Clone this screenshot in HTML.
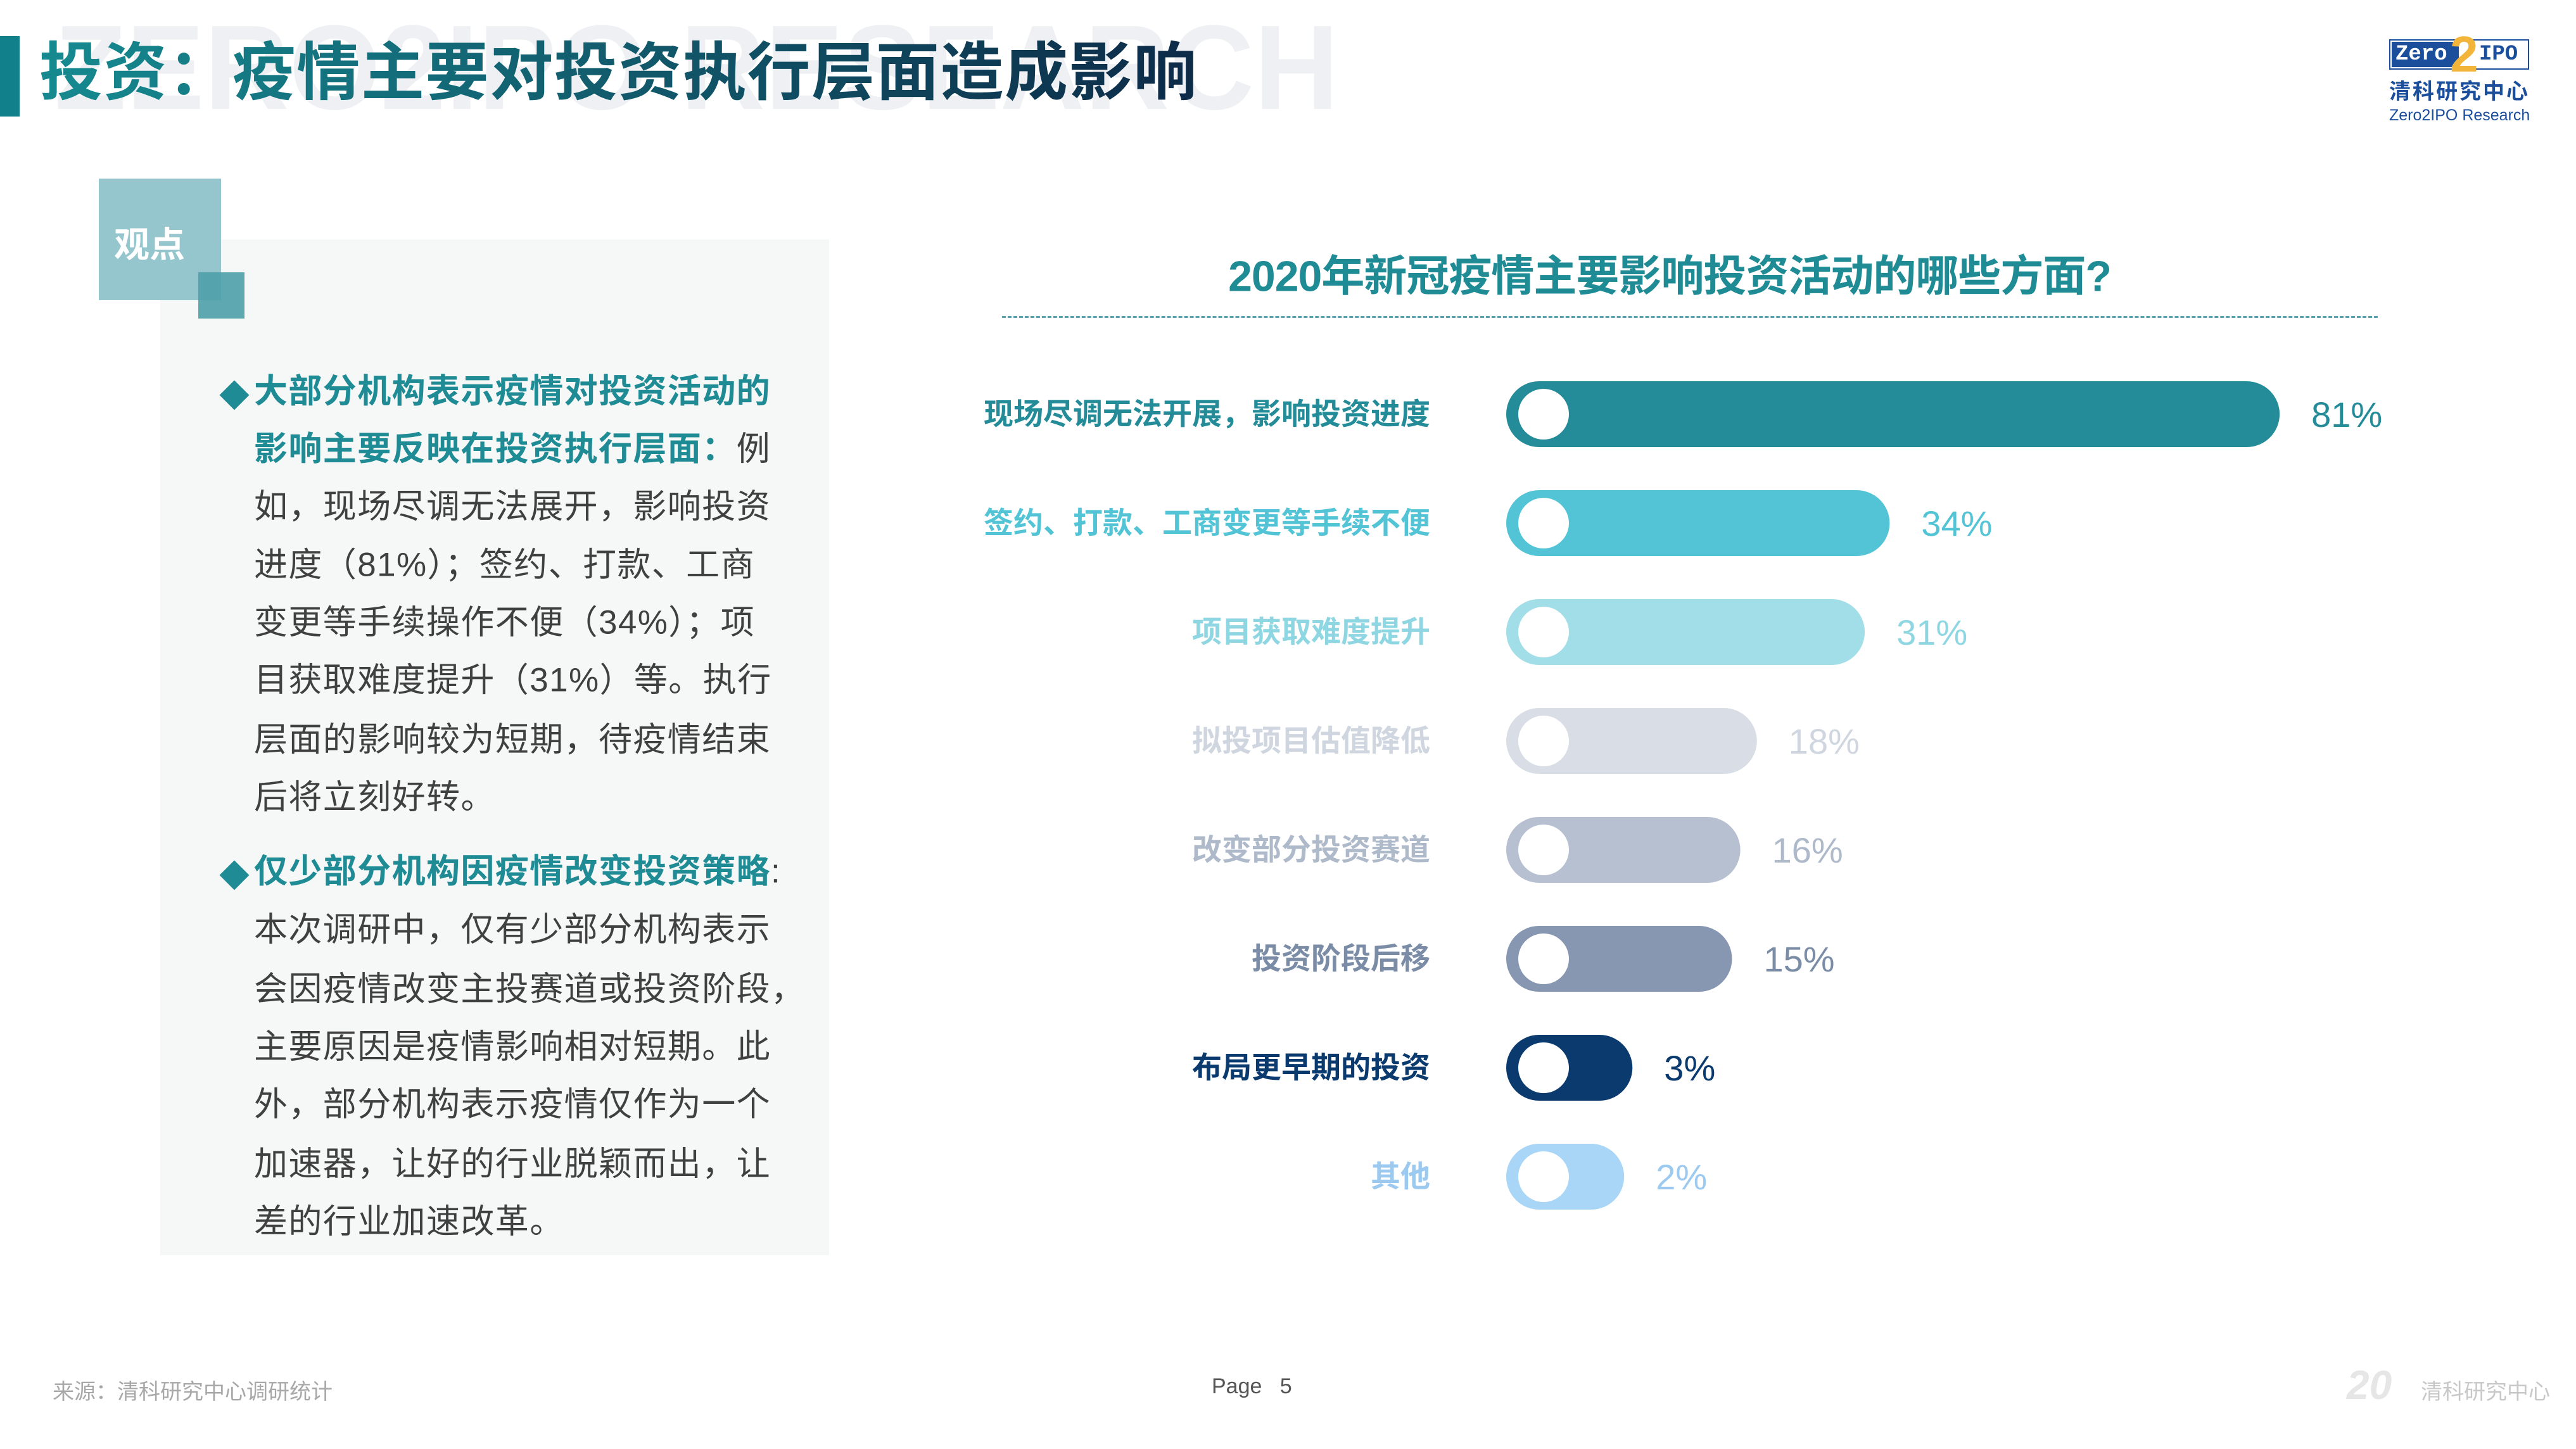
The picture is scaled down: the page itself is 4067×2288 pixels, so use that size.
<!DOCTYPE html>
<html><head><meta charset="utf-8">
<style>
body{margin:0;width:4067px;height:2288px;background:#fff;position:relative;overflow:hidden;font-family:"Liberation Sans","Noto Sans CJK SC",sans-serif}
.abs{position:absolute;white-space:nowrap}
.ln{position:absolute;left:401px;font-size:53px;letter-spacing:1.4px;color:#404040;line-height:1;transform:translateY(-50%)}
.b{color:#1f8b94;font-weight:bold}
</style></head><body>
<div class="abs" style="left:86px;top:-2px;font-size:190px;font-weight:bold;color:#eef0f3;transform:scaleX(0.975);transform-origin:left top">ZERO2IPO RESEARCH</div>
<div class="abs" style="left:0;top:57px;width:31px;height:127px;background:#12808a"></div>
<div class="abs" style="left:62px;top:60px;font-size:100px;font-weight:bold;line-height:1.1;letter-spacing:1.6px;background:linear-gradient(90deg,#168a90,#0d2b48);-webkit-background-clip:text;color:transparent">投资：疫情主要对投资执行层面造成影响</div>

<div class="abs" style="left:3772px;top:50px;width:221px;height:150px">
 <div style="position:absolute;left:0;top:12px;width:217px;height:44px;border:2px solid #1b4f9c;background:#fff"></div>
 <div style="position:absolute;left:4px;top:16px;width:100px;height:40px;background:#1b4f9c;color:#fff;font:bold 34px 'Liberation Mono',monospace;line-height:40px;padding-left:6px">Zero</div>
 <div style="position:absolute;left:96px;top:-4px;color:#f2b53a;font:bold 80px 'Liberation Sans',sans-serif;line-height:80px">2</div>
 <div style="position:absolute;left:142px;top:16px;color:#1b4f9c;font:bold 34px 'Liberation Mono',monospace;line-height:40px">IPO</div>
 <div style="position:absolute;left:0;top:78px;color:#1b4f9c;font-weight:bold;font-size:34px;letter-spacing:3px;line-height:1">清科研究中心</div>
 <div style="position:absolute;left:0;top:120px;color:#1b4f9c;font-size:25px;line-height:1">Zero2IPO Research</div>
</div>

<div class="abs" style="left:253px;top:378px;width:1056px;height:1604px;background:#f6f7f7"></div>
<div class="abs" style="left:156px;top:282px;width:193px;height:192px;background:#95c6cd"></div>
<div class="abs" style="left:313px;top:430px;width:73px;height:73px;background:#4e9fa8;opacity:.9"></div>
<div class="abs" style="left:180px;top:342px;font-size:56px;font-weight:bold;color:#fff">观点</div>

<div class="abs b" style="left:346px;top:586px;font-size:48px">◆</div>
<div class="ln" style="top:618px"><span class="b">大部分机构表示疫情对投资活动的</span></div>
<div class="ln" style="top:709px"><span class="b">影响主要反映在投资执行层面：</span>例</div>
<div class="ln" style="top:800px">如，现场尽调无法展开，影响投资</div>
<div class="ln" style="top:892px">进度（81%）；签约、打款、工商</div>
<div class="ln" style="top:983px">变更等手续操作不便（34%）；项</div>
<div class="ln" style="top:1074px">目获取难度提升（31%）等。执行</div>
<div class="ln" style="top:1168px">层面的影响较为短期，待疫情结束</div>
<div class="ln" style="top:1259px">后将立刻好转。</div>
<div class="abs b" style="left:346px;top:1344px;font-size:48px">◆</div>
<div class="ln" style="top:1376px"><span class="b">仅少部分机构因疫情改变投资策略</span>:</div>
<div class="ln" style="top:1468px">本次调研中，仅有少部分机构表示</div>
<div class="ln" style="top:1562px">会因疫情改变主投赛道或投资阶段，</div>
<div class="ln" style="top:1653px">主要原因是疫情影响相对短期。此</div>
<div class="ln" style="top:1744px">外，部分机构表示疫情仅作为一个</div>
<div class="ln" style="top:1838px">加速器，让好的行业脱颖而出，让</div>
<div class="ln" style="top:1929px">差的行业加速改革。</div>

<div class="abs" style="left:2636px;top:430px;transform:translate(-50%,-50%);font-size:68px;font-weight:bold;color:#1f8b94;letter-spacing:-1px">2020年新冠疫情主要影响投资活动的哪些方面?</div>
<div class="abs" style="left:1582px;top:499px;width:2172px;border-top:3px dashed #5c9fb0"></div>

<svg id="chart" width="4067" height="2288" style="position:absolute;left:0;top:0"></svg>

<div class="abs" style="left:83px;top:2170px;font-size:34px;color:#a8a8a8">来源：清科研究中心调研统计</div>
<div class="abs" style="left:1913px;top:2170px;font-size:34px;color:#555">Page &nbsp; 5</div>
<div class="abs" style="left:3705px;top:2150px;font-size:64px;font-weight:bold;color:#e6e6e6;font-style:italic">20</div>
<div class="abs" style="left:3822px;top:2170px;font-size:34px;color:#c8c8c8">清科研究中心</div>

<script>
const categories=["现场尽调无法开展，影响投资进度","签约、打款、工商变更等手续不便","项目获取难度提升","拟投项目估值降低","改变部分投资赛道","投资阶段后移","布局更早期的投资","其他"];
const values=[81,34,31,18,16,15,3,2];
const colors=["#238c98","#52c4d6","#a2dee8","#d9dee6","#b6c0d0","#8797b1","#0a3a6e","#a9d6f6"];
const labelColors=["#238c98","#52c4d6","#8fd6e3","#d0d6e0","#aeb9ca","#7b8ca7","#0a3a6e","#9cc9ef"];
const svg=document.getElementById('chart');
const NS='http://www.w3.org/2000/svg';
const x0=2378, w=v=>160+13.1*v, y=i=>654+i*172, h=104;
values.forEach((v,i)=>{
  const cy=y(i);
  const r=document.createElementNS(NS,'rect');
  
  
  r.setAttribute('x',x0);r.setAttribute('y',cy-h/2);r.setAttribute('width',w(v));r.setAttribute('height',h);
  r.setAttribute('rx',h/2);r.setAttribute('fill',colors[i]);svg.appendChild(r);
  const c=document.createElementNS(NS,'circle');
  
  
  c.setAttribute('cx',x0+59);c.setAttribute('cy',cy);c.setAttribute('r',40);c.setAttribute('fill','#fff');svg.appendChild(c);
  const t=document.createElementNS(NS,'text');
  
  
  t.setAttribute('x',2258);t.setAttribute('y',cy+16);t.setAttribute('text-anchor','end');
  t.setAttribute('font-size','47');t.setAttribute('font-weight','bold');t.setAttribute('fill',labelColors[i]);
  t.setAttribute('font-family','"Liberation Sans","Noto Sans CJK SC",sans-serif');
  t.textContent=categories[i];svg.appendChild(t);
  const vt=document.createElementNS(NS,'text');
  
  
  vt.setAttribute('x',x0+w(v)+50);vt.setAttribute('y',cy+20);
  vt.setAttribute('font-size','56');vt.setAttribute('fill',labelColors[i]);
  vt.setAttribute('font-family','"Liberation Sans",sans-serif');
  vt.textContent=v+'%';svg.appendChild(vt);
});
</script>
</body></html>
